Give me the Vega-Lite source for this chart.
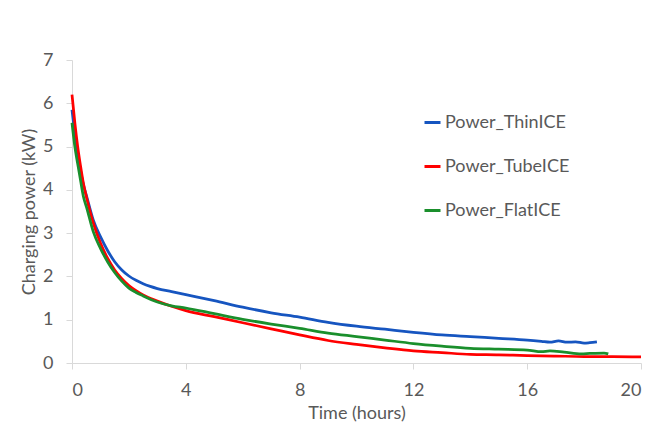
{
  "$schema": "https://vega.github.io/schema/vega-lite/v6.json",
  "width": 569,
  "height": 303,
  "autosize": "none",
  "padding": {"left": 72, "top": 60, "right": 13, "bottom": 65},
  "background": "white",
  "datasets": {
    "thin": [
      {"t":0,"p":5.85},{"t":0.1,"p":5.3},{"t":0.2,"p":4.85},{"t":0.3,"p":4.45},{"t":0.4,"p":4.12},{"t":0.52,"p":3.84},{"t":0.75,"p":3.3},{"t":1,"p":2.92},{"t":1.25,"p":2.6},{"t":1.5,"p":2.34},{"t":1.75,"p":2.15},{"t":2,"p":2.01},{"t":2.25,"p":1.91},{"t":2.5,"p":1.83},{"t":2.75,"p":1.77},{"t":3,"p":1.72},{"t":3.5,"p":1.65},{"t":4,"p":1.58},{"t":5,"p":1.44},{"t":6,"p":1.29},{"t":7,"p":1.16},{"t":8,"p":1.06},{"t":9,"p":0.94},{"t":10,"p":0.85},{"t":11,"p":0.78},{"t":12,"p":0.71},{"t":13,"p":0.65},{"t":14,"p":0.61},{"t":15,"p":0.57},{"t":16,"p":0.53},{"t":16.5,"p":0.5},{"t":16.8,"p":0.48},{"t":17.1,"p":0.51},{"t":17.4,"p":0.48},{"t":17.7,"p":0.49},{"t":18.0,"p":0.46},{"t":18.2,"p":0.47},{"t":18.45,"p":0.49}
    ],
    "tube": [
      {"t":0,"p":6.2},{"t":0.1,"p":5.55},{"t":0.2,"p":5.0},{"t":0.3,"p":4.55},{"t":0.4,"p":4.15},{"t":0.52,"p":3.8},{"t":0.75,"p":3.23},{"t":1,"p":2.77},{"t":1.25,"p":2.42},{"t":1.5,"p":2.15},{"t":1.75,"p":1.95},{"t":2,"p":1.79},{"t":2.25,"p":1.67},{"t":2.5,"p":1.57},{"t":3,"p":1.43},{"t":3.5,"p":1.31},{"t":4,"p":1.21},{"t":5,"p":1.07},{"t":6,"p":0.93},{"t":7,"p":0.79},{"t":8,"p":0.65},{"t":9,"p":0.52},{"t":10,"p":0.43},{"t":11,"p":0.35},{"t":12,"p":0.28},{"t":13,"p":0.24},{"t":14,"p":0.2},{"t":15,"p":0.19},{"t":16,"p":0.17},{"t":17,"p":0.16},{"t":18,"p":0.15},{"t":19,"p":0.15},{"t":20,"p":0.14}
    ],
    "flat": [
      {"t":0,"p":5.55},{"t":0.1,"p":5.0},{"t":0.2,"p":4.6},{"t":0.3,"p":4.22},{"t":0.4,"p":3.85},{"t":0.52,"p":3.58},{"t":0.75,"p":3.03},{"t":1,"p":2.65},{"t":1.25,"p":2.34},{"t":1.5,"p":2.09},{"t":1.75,"p":1.89},{"t":2,"p":1.73},{"t":2.25,"p":1.63},{"t":2.5,"p":1.55},{"t":3,"p":1.41},{"t":3.5,"p":1.32},{"t":4,"p":1.27},{"t":5,"p":1.14},{"t":6,"p":1.01},{"t":7,"p":0.9},{"t":8,"p":0.8},{"t":9,"p":0.69},{"t":10,"p":0.61},{"t":11,"p":0.53},{"t":12,"p":0.45},{"t":13,"p":0.39},{"t":14,"p":0.34},{"t":15,"p":0.32},{"t":16,"p":0.3},{"t":16.5,"p":0.26},{"t":16.8,"p":0.28},{"t":17.3,"p":0.25},{"t":17.9,"p":0.21},{"t":18.2,"p":0.22},{"t":18.7,"p":0.23},{"t":18.85,"p":0.21}
    ]
  },
  "config": {
    "view": {"stroke": null},
    "font": "Lato",
    "axis": {
      "grid": false,
      "domainColor": "#d9d9d9",
      "domainWidth": 1,
      "tickColor": "#d9d9d9",
      "tickSize": 6,
      "labelColor": "#595959",
      "labelFontSize": 18,
      "labelFont": "Lato",
      "titleColor": "#595959",
      "titleFontSize": 18,
      "titleFont": "Lato",
      "titleFontWeight": "normal"
    }
  },
  "layer": [
    {
      "data": {"name": "thin"},
      "transform": [{"calculate": "'Power_ThinICE'", "as": "series"}],
      "mark": {"type": "line", "strokeWidth": 2.75, "interpolate": "monotone"},
      "encoding": {
        "x": {"field": "t", "type": "quantitative", "scale": {"domain": [0, 20], "nice": false}, "axis": {"values": [0,4,8,12,16,20], "title": "Time (hours)", "labelPadding": 12, "titlePadding": 5}},
        "y": {"field": "p", "type": "quantitative", "scale": {"domain": [0, 7], "nice": false}, "axis": {"values": [0,1,2,3,4,5,6,7], "title": "Charging power (kW)", "labelPadding": 13, "titlePadding": 4}},
        "color": {"field": "series", "type": "nominal", "scale": {"domain": ["Power_ThinICE","Power_TubeICE","Power_FlatICE"], "range": ["#1655c0","#ff0000","#1a8f2c"]},
          "legend": {"title": null, "orient": "none", "legendX": 351, "legendY": 53, "symbolType": "stroke", "symbolSize": 256, "symbolStrokeWidth": 3, "labelFontSize": 18, "labelFont": "Lato", "labelColor": "#595959", "rowPadding": 25, "labelOffset": 3}}
      }
    },
    {
      "data": {"name": "tube"},
      "transform": [{"calculate": "'Power_TubeICE'", "as": "series"}],
      "mark": {"type": "line", "strokeWidth": 2.75, "interpolate": "monotone"},
      "encoding": {
        "x": {"field": "t", "type": "quantitative"},
        "y": {"field": "p", "type": "quantitative"},
        "color": {"field": "series", "type": "nominal"}
      }
    },
    {
      "data": {"name": "flat"},
      "transform": [{"calculate": "'Power_FlatICE'", "as": "series"}],
      "mark": {"type": "line", "strokeWidth": 2.75, "interpolate": "monotone"},
      "encoding": {
        "x": {"field": "t", "type": "quantitative"},
        "y": {"field": "p", "type": "quantitative"},
        "color": {"field": "series", "type": "nominal"}
      }
    }
  ]
}
